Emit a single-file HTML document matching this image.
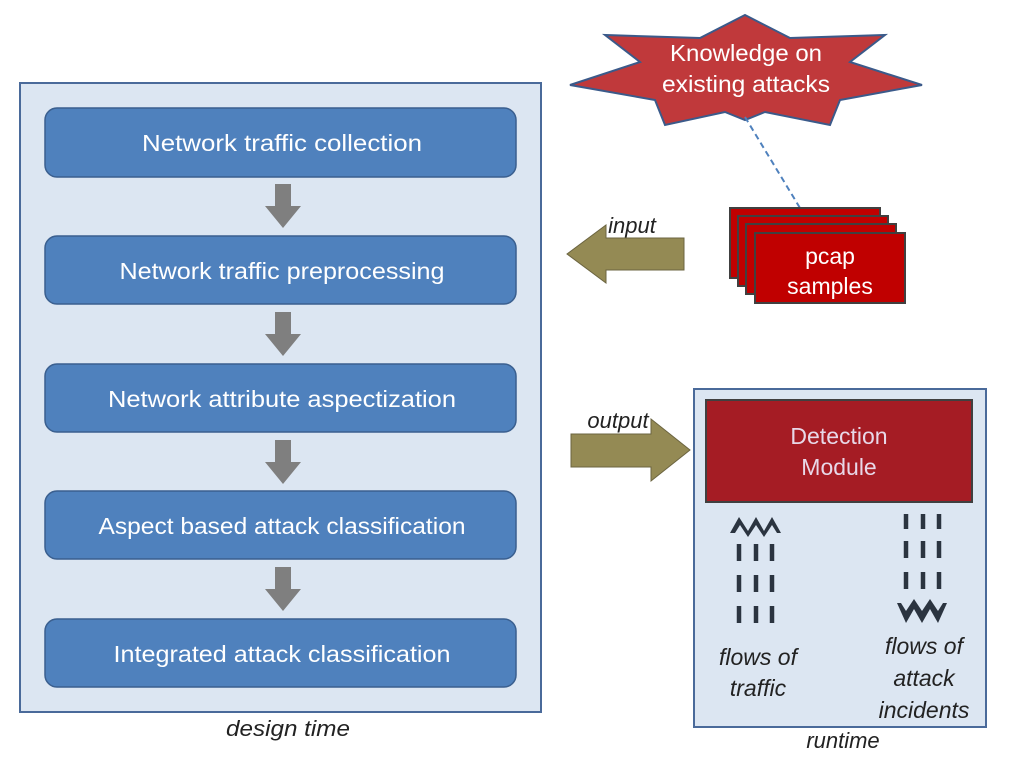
<!DOCTYPE html>
<html><head><meta charset="utf-8"><style>
body{margin:0;background:#fff;}
svg{display:block;font-family:"Liberation Sans",sans-serif;}
</style></head><body>
<svg width="1016" height="767" viewBox="0 0 1016 767">
<rect x="20" y="83" width="521" height="629" fill="#dce6f2" stroke="#4a6a9a" stroke-width="2"/>
<g fill="#4f81bd" stroke="#3a5f8f" stroke-width="1.5">
<rect x="45" y="108" width="471" height="69" rx="12"/>
<rect x="45" y="236" width="471" height="68" rx="12"/>
<rect x="45" y="364" width="471" height="68" rx="12"/>
<rect x="45" y="491" width="471" height="68" rx="12"/>
<rect x="45" y="619" width="471" height="68" rx="12"/>
</g>
<g fill="#fff" font-size="23" text-anchor="middle">
<text x="282" y="151" textLength="280" lengthAdjust="spacingAndGlyphs">Network traffic collection</text>
<text x="282" y="279" textLength="325" lengthAdjust="spacingAndGlyphs">Network traffic preprocessing</text>
<text x="282" y="407" textLength="348" lengthAdjust="spacingAndGlyphs">Network attribute aspectization</text>
<text x="282" y="534" textLength="367" lengthAdjust="spacingAndGlyphs">Aspect based attack classification</text>
<text x="282" y="662" textLength="337" lengthAdjust="spacingAndGlyphs">Integrated attack classification</text>
</g>
<g fill="#7f7f7f">
<path d="M275 184h16v22h10l-18 22l-18-22h10z"/>
<path d="M275 312h16v22h10l-18 22l-18-22h10z"/>
<path d="M275 440h16v22h10l-18 22l-18-22h10z"/>
<path d="M275 567h16v22h10l-18 22l-18-22h10z"/>
</g>
<text x="288" y="736" font-size="22" font-style="italic" text-anchor="middle" fill="#222" textLength="124" lengthAdjust="spacingAndGlyphs">design time</text>

<polygon points="745,15 790,38 885,35 850,62 922,85 840,100 830,125 765,112 745,120 725,112 665,125 655,100 570,85 640,62 605,35 700,38" fill="#c0393b" stroke="#3b5a8a" stroke-width="2"/>
<text x="746" y="61" font-size="23" fill="#fff" text-anchor="middle" textLength="152" lengthAdjust="spacingAndGlyphs">Knowledge on</text>
<text x="746" y="92" font-size="23" fill="#fff" text-anchor="middle" textLength="168" lengthAdjust="spacingAndGlyphs">existing attacks</text>
<line x1="745" y1="117" x2="800" y2="208" stroke="#4f81bd" stroke-width="2" stroke-dasharray="6,4"/>

<g fill="#c00000" stroke="#404040" stroke-width="2">
<rect x="730" y="208" width="150" height="70"/>
<rect x="738" y="216" width="150" height="70"/>
<rect x="746" y="224" width="150" height="70"/>
<rect x="755" y="233" width="150" height="70"/>
</g>
<text x="830" y="264" font-size="23" fill="#fff" text-anchor="middle">pcap</text>
<text x="830" y="294" font-size="23" fill="#fff" text-anchor="middle">samples</text>

<path d="M684 238v32h-78v13l-39-29l39-29v13z" fill="#948a54" stroke="#6b6440" stroke-width="1"/>
<text x="632" y="233" font-size="22" font-style="italic" text-anchor="middle" fill="#222">input</text>
<path d="M571 434v33h80v14l39-31l-39-31v15z" fill="#948a54" stroke="#6b6440" stroke-width="1"/>
<text x="618" y="428" font-size="22" font-style="italic" text-anchor="middle" fill="#222">output</text>

<rect x="694" y="389" width="292" height="338" fill="#dce6f2" stroke="#4a6a9a" stroke-width="2"/>
<rect x="706" y="400" width="266" height="102" fill="#a51c24" stroke="#404040" stroke-width="2"/>
<text x="839" y="444" font-size="23" fill="#e8d8e8" text-anchor="middle">Detection</text>
<text x="839" y="475" font-size="23" fill="#e8d8e8" text-anchor="middle">Module</text>

<g stroke="#2b3440" stroke-width="4.5">
<path d="M739 544v17M756 544v17M772 544v17M739 575v17M756 575v17M772 575v17M739 606v17M756 606v17M772 606v17"/>
<path d="M906 514v15M923 514v15M939 514v15M906 541v17M923 541v17M939 541v17M906 572v17M923 572v17M939 572v17"/>
</g>
<g fill="#2b3440">
<path d="M730 533l9-16l9 14l8-14l8 14l8-14l9 16l-4 0l-5-8l-8 12l-8-12l-8 12l-8-12l-5 8z"/>
<path d="M897 603l4 0l5 8l8-12l8 12l8-12l8 12l5-8l4 0l-9 20l-8-14l-8 14l-8-14l-8 14z"/>
</g>
<g font-size="23" font-style="italic" fill="#222" text-anchor="middle">
<text x="758" y="665">flows of</text>
<text x="758" y="696">traffic</text>
<text x="924" y="654">flows of</text>
<text x="924" y="686">attack</text>
<text x="924" y="718">incidents</text>
<text x="843" y="748" font-size="22">runtime</text>
</g>
</svg>
</body></html>
